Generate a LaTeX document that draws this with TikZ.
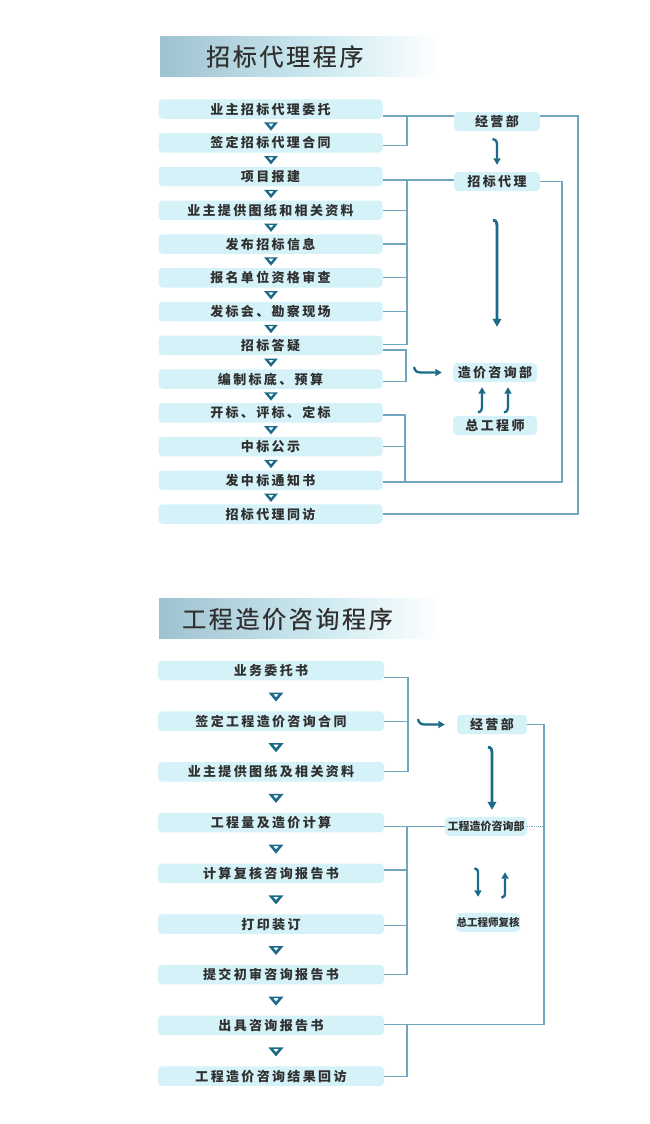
\documentclass[tikz,border=0pt]{standalone}
\usepackage{fontspec}
\newfontfamily\cjk[LetterSpace=18]{Noto Sans CJK SC}
\newfontfamily\cjkn{Noto Sans CJK SC}
\newfontfamily\cjkt[LetterSpace=11,FakeBold=0.5]{Noto Sans CJK SC}
\usetikzlibrary{arrows.meta,calc}
\definecolor{boxc}{RGB}{212,242,248}
\definecolor{linec}{RGB}{112,166,192}
\definecolor{arrc}{RGB}{26,106,136}
\definecolor{txtc}{RGB}{48,48,48}
\definecolor{banL}{RGB}{158,194,208}
\definecolor{banM}{RGB}{208,236,242}
\begin{document}
\begin{tikzpicture}[x=1pt,y=-1pt,
  lbox/.style={fill=boxc, rounded corners=4pt, minimum width=224pt, minimum height=19.5pt,
    inner sep=0pt, text=txtc, text height=11pt, text depth=1pt,
    font={\cjk\bfseries\fontsize{13}{13}\selectfont}},
  rbox/.style={lbox, minimum width=86pt, minimum height=19pt},
  sbox/.style={rbox, font={\cjkn\bfseries\fontsize{11}{11}\selectfont}, text height=9.3pt, text depth=0.8pt},
  ttl/.style={anchor=west, inner sep=0pt, text=txtc, font={\cjkt\fontsize{24}{24}\selectfont}},
  conn/.style={draw=linec, line width=1.1pt},
  harr/.style={draw=arrc, line width=2.3pt, -{Triangle[length=6.5pt,width=7pt]}},
  barr/.style={draw=arrc, line width=2.8pt, -{Triangle[length=8pt,width=8.5pt]}},
  chev/.pic={\fill[arrc,even odd rule] (-7.5,-4.5) -- (7.5,-4.5) -- (0,4.5) -- cycle
      (-2.9,-3) -- (2.9,-3) -- (0,0.4) -- cycle;}
]
\useasboundingbox (0,0) rectangle (650,1124);
\fill[white] (0,0) rectangle (650,1124);

% ---------- banners ----------
\shade[left color=banL, right color=banM] (160,37) rectangle (330,76);
\shade[left color=banM, right color=white] (329.5,37) rectangle (440,76);
\node[ttl] (t1) at (206,56.5) {招标代理程序};
\shade[left color=banL, right color=banM] (159,598) rectangle (330,638);
\shade[left color=banM, right color=white] (329.5,598) rectangle (440,638);
\node[ttl] (t2) at (182,619) {工程造价咨询程序};

% ---------- top section: left boxes ----------
\node[lbox] (a1)  at (270.5,109)    {业主招标代理委托};
\node[lbox] (a2)  at (270.5,142.75) {签定招标代理合同};
\node[lbox] (a3)  at (270.5,176.5)  {项目报建};
\node[lbox] (a4)  at (270.5,210.25) {业主提供图纸和相关资料};
\node[lbox] (a5)  at (270.5,244)    {发布招标信息};
\node[lbox] (a6)  at (270.5,277.75) {报名单位资格审查};
\node[lbox] (a7)  at (270.5,311.5)  {发标会、勘察现场};
\node[lbox] (a8)  at (270.5,345.25) {招标答疑};
\node[lbox] (a9)  at (270.5,379)    {编制标底、预算};
\node[lbox] (a10) at (270.5,412.75) {开标、评标、定标};
\node[lbox] (a11) at (270.5,446.5)  {中标公示};
\node[lbox] (a12) at (270.5,480.25) {发中标通知书};
\node[lbox] (a13) at (270.5,514)    {招标代理同访};
\foreach \i in {1,...,12}{
  \pic[scale=0.92] at (271,{126.5+33.75*(\i-1)}) {chev};
}

% ---------- top section: right boxes ----------
\node[rbox] (jy) at (497,121.5) {经营部};
\node[rbox] (zb) at (497,181.5) {招标代理};
\node[rbox, minimum width=84pt] (zj) at (495,372.5) {造价咨询部};
\node[rbox, minimum width=84pt] (zg) at (495,425.5) {总工程师};

% bracket x positions
\coordinate (kA) at (407,0);
\coordinate (kB) at (407,0);
\coordinate (kC) at (406,0);
\coordinate (kD) at (405,0);
\coordinate (kL1) at (578,0);
\coordinate (kL2) at (562,0);

% ports
\coordinate (p1)  at ([yshift=-7pt]a1.east);
\coordinate (p2)  at ([yshift=-3pt]a2.east);
\coordinate (p3)  at ([yshift=-3.5pt]a3.east);
\coordinate (p8)  at ([yshift=1pt]a8.east);
\coordinate (p8b) at ([yshift=-4.75pt]a8.east);
\coordinate (p9)  at ([yshift=-2.7pt]a9.east);
\coordinate (p10) at ([yshift=-2.25pt]a10.east);
\coordinate (p12) at ([yshift=-1.75pt]a12.east);

% group A -> 经营部
\draw[conn] (p1) -- (p1 -| jy.west);
\draw[conn] (p2) -| (p1 -| kA);
% group B -> 招标代理
\draw[conn] (p3) -- (p3 -| zb.west);
\draw[conn] (p8) -| (p3 -| kB);
\foreach \n in {a4,a5,a6,a7}{ \draw[conn] (\n.east) -- (\n.east -| kB); }
% group C
\draw[conn] (p8b) -| (p9 -| kC) -- (p9);
% group D
\draw[conn] (p10) -| (p12 -| kD);
\draw[conn] (a11.east) -- (a11.east -| kD);
% loops
\draw[conn] ([yshift=5.5pt]jy.east) -| (a13.east -| kL1) -- (a13.east);
\draw[conn] (zb.east) -| (p12 -| kL2) -- (p12);

% arrows top
\draw[harr] ($(jy.south)+(-4.5,8)$) .. controls ($(jy.south)+(-1,8.3)$) and ($(jy.south)+(0,10)$) .. ($(jy.south)+(0,14)$) -- ($(zb.north)+(0,-7)$);
\draw[barr] ($(zb.south)+(-4,29)$) .. controls ($(zb.south)+(-0.5,29.3)$) and ($(zb.south)+(0,31)$) .. ($(zb.south)+(0,37)$) -- ($(zj.north)+(2,-36)$);
\coordinate (hc) at (414,367);
\draw[harr] (hc) .. controls (415,371) and (416.5,372.5) .. (421,372.5) -- ([xshift=-11pt]zj.west);
\draw[harr] ($(zg.north)+(-17,-3.5)$) .. controls ($(zg.north)+(-13.5,-4)$) and ($(zg.north)+(-13,-6)$) .. ($(zg.north)+(-13,-11)$) -- ($(zj.south)+(-13,5)$);
\draw[harr] ($(zg.north)+(9,-3.5)$) .. controls ($(zg.north)+(12.5,-4)$) and ($(zg.north)+(13,-6)$) .. ($(zg.north)+(13,-11)$) -- ($(zj.south)+(13,5)$);

% ---------- bottom section: left boxes ----------
\node[lbox, minimum width=226pt] (b1) at (271,670.5)  {业务委托书};
\node[lbox, minimum width=226pt] (b2) at (271,721.2)  {签定工程造价咨询合同};
\node[lbox, minimum width=226pt] (b3) at (271,771.9)  {业主提供图纸及相关资料};
\node[lbox, minimum width=226pt] (b4) at (271,822.6)  {工程量及造价计算};
\node[lbox, minimum width=226pt] (b5) at (271,873.3)  {计算复核咨询报告书};
\node[lbox, minimum width=226pt] (b6) at (271,924)    {打印装订};
\node[lbox, minimum width=226pt] (b7) at (271,974.7)  {提交初审咨询报告书};
\node[lbox, minimum width=226pt] (b8) at (271,1025.4) {出具咨询报告书};
\node[lbox, minimum width=226pt] (b9) at (271,1076.1) {工程造价咨询结果回访};
\foreach \i in {1,...,8}{
  \pic at (276,{697+50.7*(\i-1)}) {chev};
}

% ---------- bottom section: right boxes ----------
\node[rbox, minimum width=70pt] (jy2) at (492,724.5) {经营部};
\node[sbox, minimum width=82pt] (gz) at (486,826.5) {工程造价咨询部};
\node[sbox, minimum width=64pt, font={\cjkn\bfseries\fontsize{10.5}{10.5}\selectfont}] (zg2) at (488,922.5) {总工程师复核};

\coordinate (kE) at (408,0);
\coordinate (kF) at (407,0);
\coordinate (kG) at (407,0);
\coordinate (kL3) at (544,0);
\coordinate (q1) at ([yshift=-7pt]b1.east);
\coordinate (q4) at ([yshift=-3.9pt]b4.east);
\coordinate (q5) at ([yshift=3.3pt]b5.east);
\coordinate (q6) at ([yshift=-1.7pt]b6.east);
\coordinate (q8) at ([yshift=1.2pt]b8.east);

\draw[conn] (q1) -| (b3.east -| kE) -- (b3.east);
\draw[conn] (b2.east) -- (b2.east -| kE);
\draw[conn] (jy2.east) -| (q8 -| kL3) -- (q8);
\draw[conn, densely dotted] (gz.east) -- (gz.east -| kL3);
\draw[conn] (q4) -- (q4 -| gz.west);
\draw[conn] (b7.east) -| (q4 -| kF);
\draw[conn] (q5) -- (q5 -| kF);
\draw[conn] (q6) -- (q6 -| kF);
\draw[conn] (q8 -| kG) |- (b9.east);

\coordinate (hd) at (418,719);
\draw[harr] (hd) .. controls (419,723) and (420.5,724.5) .. (425,724.5) -- ([xshift=-12pt]jy2.west);
\draw[barr] ($(jy2.south)+(-4,13)$) .. controls ($(jy2.south)+(-0.5,13.3)$) and ($(jy2.south)+(0,15)$) .. ($(jy2.south)+(0,21)$) -- ($(gz.north)+(6,-7)$);
\draw[harr] ($(gz.south)+(-11.5,32)$) .. controls ($(gz.south)+(-8.5,32.3)$) and ($(gz.south)+(-8,34)$) .. ($(gz.south)+(-8,38)$) -- ($(zg2.north)+(-10,-16)$);
\draw[harr] ($(zg2.north)+(13.5,-15)$) .. controls ($(zg2.north)+(16.5,-15.5)$) and ($(zg2.north)+(17,-17)$) .. ($(zg2.north)+(17,-21)$) -- ($(gz.south)+(19,36)$);
\end{tikzpicture}
\end{document}
